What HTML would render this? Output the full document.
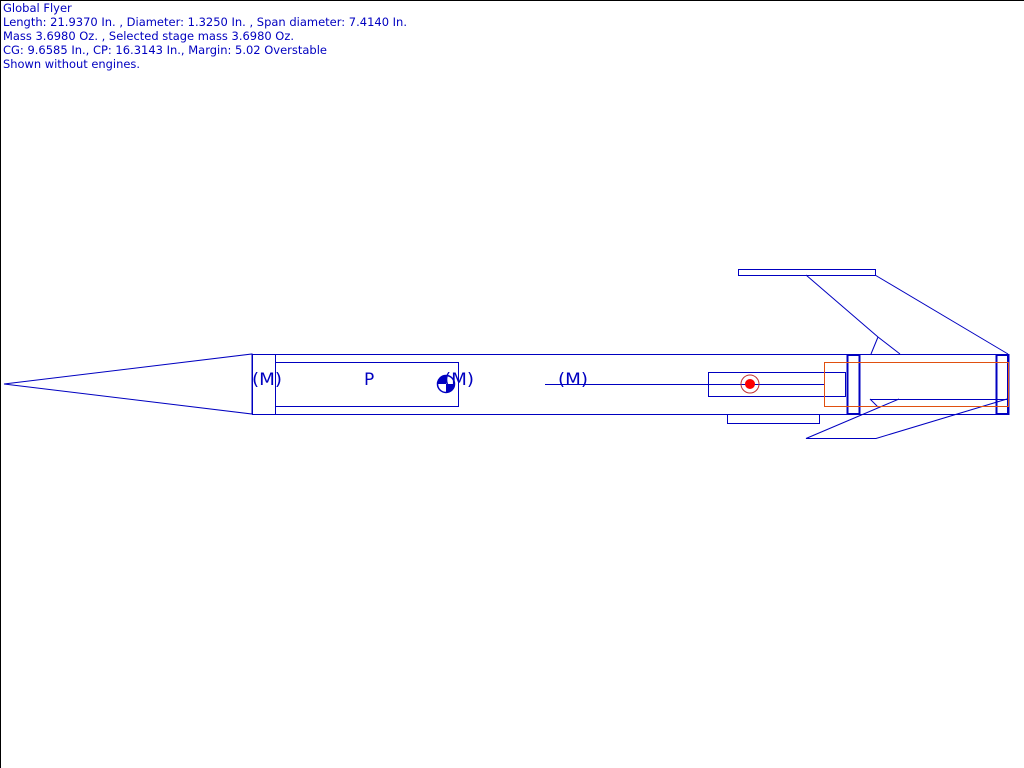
<!DOCTYPE html>
<html><head><style>
body{margin:0;background:#fff;}
svg{display:block}
</style></head><body>
<svg width="1024" height="768" viewBox="0 0 1024 768" xmlns="http://www.w3.org/2000/svg">
<rect x="0.5" y="0.5" width="1030" height="780" fill="#fff" stroke="#000"/>
<g font-family="DejaVu Sans, sans-serif" font-size="11.5" fill="#0000c0">
<text x="3" y="12">Global Flyer</text>
<text x="3" y="26" textLength="404" lengthAdjust="spacingAndGlyphs">Length: 21.9370 In. , Diameter: 1.3250 In. , Span diameter: 7.4140 In.</text>
<text x="3" y="40" textLength="291" lengthAdjust="spacingAndGlyphs">Mass 3.6980 Oz. , Selected stage mass 3.6980 Oz.</text>
<text x="3" y="54" textLength="324" lengthAdjust="spacingAndGlyphs">CG: 9.6585 In., CP: 16.3143 In., Margin: 5.02 Overstable</text>
<text x="3" y="68" textLength="137" lengthAdjust="spacingAndGlyphs">Shown without engines.</text>
</g>
<g fill="none" stroke="#0000c0" stroke-width="1">
<polygon points="4,384 252,354 252,414"/>
<rect x="252.5" y="354.5" width="23" height="60"/>
<rect x="275.5" y="354.5" width="732" height="60"/>
<rect x="275.5" y="362.5" width="183" height="44"/>
<rect x="708.5" y="372.5" width="137" height="24"/>
<line x1="545" y1="384.5" x2="824" y2="384.5"/>
<rect x="847.5" y="355" width="12" height="59" stroke-width="2"/>
<rect x="996.5" y="355" width="12" height="59" stroke-width="2"/>
<rect x="727.5" y="414.5" width="92" height="9"/>
<rect x="738.5" y="269.5" width="137" height="6"/>
<polyline points="806,275 878,337 900,354"/>
<line x1="878" y1="337" x2="871" y2="354"/>
<line x1="875" y1="275" x2="1008" y2="354"/>
<line x1="870" y1="399.5" x2="1008" y2="399.5"/>
<line x1="870" y1="399" x2="878" y2="407"/>
<polyline points="899,399 806,438.5 876,438.5 1007,399"/>
</g>
<rect x="824.5" y="362.5" width="184" height="44" fill="none" stroke="#e05010" stroke-width="1"/>
<circle cx="750" cy="384" r="9" fill="none" stroke="#c03030"/>
<circle cx="750" cy="384" r="5" fill="#ff0000"/>
<circle cx="446" cy="384" r="8.5" fill="#fff" stroke="#0000c0" stroke-width="1.5"/>
<path d="M446,384 L446,375.5 A8.5,8.5 0 0 0 437.5,384 Z" fill="#0000c0"/>
<path d="M446,384 L446,392.5 A8.5,8.5 0 0 0 454.5,384 Z" fill="#0000c0"/>
<g font-family="DejaVu Sans, sans-serif" font-size="17" fill="#0000c0">
<text x="252" y="385" textLength="30" lengthAdjust="spacingAndGlyphs">(M)</text>
<text x="364" y="385">P</text>
<text x="444" y="385" textLength="30" lengthAdjust="spacingAndGlyphs">(M)</text>
<text x="558" y="385" textLength="30" lengthAdjust="spacingAndGlyphs">(M)</text>
</g>
</svg>
</body></html>
